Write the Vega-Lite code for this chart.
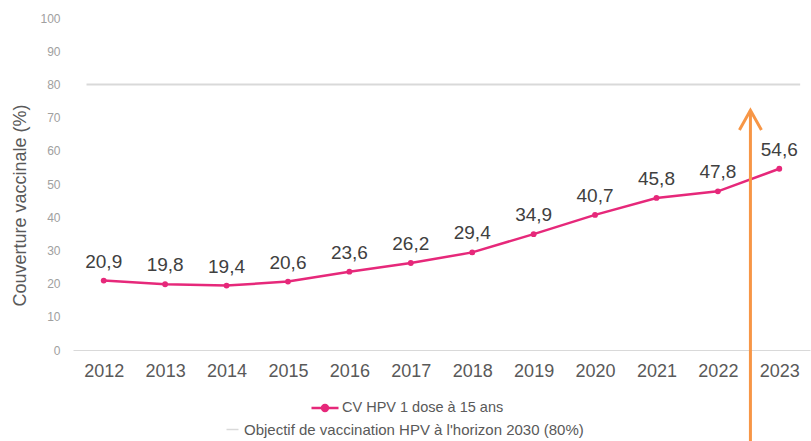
{
  "$schema": "https://vega.github.io/schema/vega-lite/v6.json",
  "width": 737,
  "height": 332,
  "autosize": {"type": "none"},
  "padding": {"left": 73, "top": 18, "right": 1, "bottom": 91},
  "background": "white",
  "config": {
    "view": {"stroke": null},
    "locale": {"number": {"decimal": ",", "thousands": " ", "grouping": [3], "currency": ["", " €"]}},
    "font": "Liberation Sans",
    "legend": {"padding": 0}
  },
  "datasets": {
    "cv": [
      {"year": 2012, "value": 20.9, "series": "CV HPV 1 dose à 15 ans"},
      {"year": 2013, "value": 19.8, "series": "CV HPV 1 dose à 15 ans"},
      {"year": 2014, "value": 19.4, "series": "CV HPV 1 dose à 15 ans"},
      {"year": 2015, "value": 20.6, "series": "CV HPV 1 dose à 15 ans"},
      {"year": 2016, "value": 23.6, "series": "CV HPV 1 dose à 15 ans"},
      {"year": 2017, "value": 26.2, "series": "CV HPV 1 dose à 15 ans"},
      {"year": 2018, "value": 29.4, "series": "CV HPV 1 dose à 15 ans"},
      {"year": 2019, "value": 34.9, "series": "CV HPV 1 dose à 15 ans"},
      {"year": 2020, "value": 40.7, "series": "CV HPV 1 dose à 15 ans"},
      {"year": 2021, "value": 45.8, "series": "CV HPV 1 dose à 15 ans"},
      {"year": 2022, "value": 47.8, "series": "CV HPV 1 dose à 15 ans"},
      {"year": 2023, "value": 54.6, "series": "CV HPV 1 dose à 15 ans"}
    ],
    "objective": [
      {"year": 2011.72, "year_end": 2023.34, "value": 80, "series": "Objectif de vaccination HPV à l'horizon 2030 (80%)"}
    ],
    "arrow": [
      {"year": 2022.53, "value": 72.2, "value_end": -27.4}
    ]
  },
  "encoding": {
    "x": {"field": "year", "type": "quantitative", "scale": {"domain": [2011.5, 2023.5], "nice": false, "zero": false},
          "axis": {"values": [2012, 2013, 2014, 2015, 2016, 2017, 2018, 2019, 2020, 2021, 2022, 2023], "format": "d", "title": null, "ticks": false, "grid": false, "domainColor": "#d9d9d9", "domainWidth": 1, "labelFont": "Liberation Sans", "labelFontSize": 18, "labelColor": "#595959", "labelPadding": 12}},
    "y": {"field": "value", "type": "quantitative", "scale": {"domain": [0, 100], "nice": false},
          "axis": {"values": [0, 10, 20, 30, 40, 50, 60, 70, 80, 90, 100], "labelOverlap": false, "format": "d", "title": "Couverture vaccinale (%)", "titleFont": "Liberation Sans", "titleFontSize": 18, "titleFontWeight": "normal", "titleColor": "#595959", "titleX": -44, "titleY": 187, "domain": false, "ticks": false, "grid": false, "labelFont": "Liberation Sans", "labelFontSize": 12, "labelColor": "#a0a0a0", "labelPadding": 13}}
  },
  "layer": [
    {
      "data": {"name": "cv"},
      "mark": {"type": "line", "strokeWidth": 2.5, "point": {"filled": true, "size": 34, "color": "#e6287a"}},
      "encoding": {
        "color": {"field": "series", "type": "nominal", "scale": {"range": ["#e6287a"]},
                  "legend": {"title": null, "orient": "none", "legendX": 237, "legendY": 375, "symbolType": "M-1,0H1M-0.22,0A0.22,0.22,0,1,0,0.22,0A0.22,0.22,0,1,0,-0.22,0Z", "symbolSize": 729, "symbolStrokeWidth": 2.5, "symbolFillColor": "#e6287a", "labelFont": "Liberation Sans", "labelFontSize": 14.5, "labelColor": "#595959", "labelOffset": 2, "labelLimit": 600}}
      }
    },
    {
      "data": {"name": "cv"},
      "mark": {"type": "text", "baseline": "bottom", "dy": -9, "fontSize": 19, "font": "Liberation Sans", "color": "#404040"},
      "encoding": {
        "text": {"field": "value", "type": "quantitative", "format": ".1f"}
      }
    },
    {
      "data": {"name": "objective"},
      "mark": {"type": "rule", "strokeWidth": 2},
      "encoding": {
        "x2": {"field": "year_end"},
        "stroke": {"field": "series", "type": "nominal", "scale": {"range": ["#d9d9d9"]},
                   "legend": {"title": null, "orient": "none", "legendX": 152, "legendY": 404, "symbolType": "stroke", "symbolSize": 144, "symbolStrokeWidth": 1.5, "labelFont": "Liberation Sans", "labelFontSize": 15, "labelColor": "#595959", "labelOffset": 4, "labelLimit": 600}}
      }
    },
    {
      "data": {"name": "arrow"},
      "mark": {"type": "rule", "color": "#f79646", "strokeWidth": 3},
      "encoding": {
        "y2": {"field": "value_end"}
      }
    },
    {
      "data": {"name": "arrow"},
      "mark": {"type": "point", "shape": "M-1,1.8L0,0L1,1.8", "size": 484, "filled": false, "stroke": "#f79646", "strokeWidth": 3, "strokeJoin": "miter", "opacity": 1}
    }
  ]
}
